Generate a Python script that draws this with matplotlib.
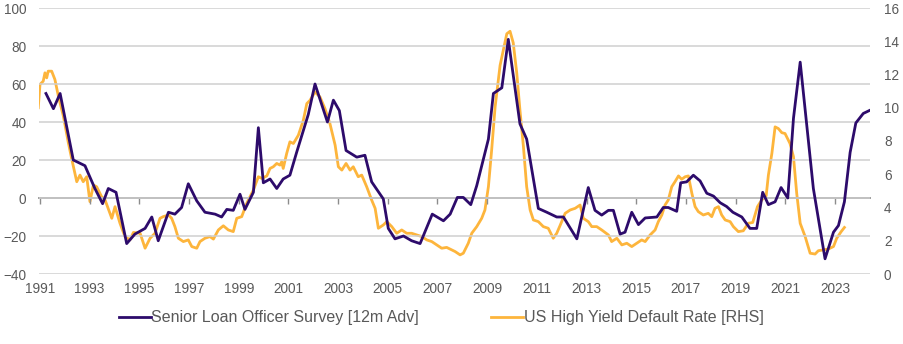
import matplotlib.pyplot as plt

# Senior Loan Officer Survey, shifted 12 months ahead (left axis)
slo_dates = [1991.24, 1991.54, 1991.81, 1992.34, 1992.81, 1993.21, 1993.52, 1993.75,
             1994.06, 1994.49, 1994.82, 1995.23, 1995.50, 1995.76, 1996.17, 1996.43,
             1996.70, 1996.97, 1997.31, 1997.64, 1998.05, 1998.31, 1998.52, 1998.78,
             1999.05, 1999.25, 1999.59, 1999.79, 1999.99, 2000.26, 2000.53, 2000.79,
             2001.06, 2001.33, 2001.80, 2002.07, 2002.57, 2002.81, 2003.05, 2003.32,
             2003.75, 2004.08, 2004.35, 2004.82, 2005.02, 2005.29, 2005.63, 2005.96,
             2006.30, 2006.79, 2007.24, 2007.51, 2007.80, 2008.04, 2008.34, 2008.58,
             2009.05, 2009.25, 2009.59, 2009.85, 2010.32, 2010.59, 2011.06, 2011.40,
             2011.80, 2012.07, 2012.61, 2013.07, 2013.34, 2013.61, 2013.88, 2014.08,
             2014.35, 2014.55, 2014.82, 2015.09, 2015.36, 2015.83, 2016.09, 2016.29,
             2016.63, 2016.79, 2017.03, 2017.30, 2017.57, 2017.84, 2018.11, 2018.38,
             2018.64, 2018.89, 2019.25, 2019.58, 2019.85, 2020.09, 2020.32, 2020.59,
             2020.83, 2021.10, 2021.33, 2021.60, 2022.13, 2022.60, 2022.94, 2023.14,
             2023.38, 2023.61, 2023.84, 2024.14, 2024.38]
slo_values = [55, 47, 55, 20, 17, 5, -3, 5,
              3, -24, -19, -16, -10, -22.5, -7.5, -8.5,
              -5, 7.5, -1.5, -7.5, -8.5, -10, -6, -6.5,
              2, -6, 3, 37, 8, 10, 5, 10,
              12, 24, 44, 60, 40, 51.5, 46, 25,
              21.5, 22.5, 8.5, -0.5, -16, -21.5, -20, -22.5,
              -24, -8.5, -12, -8.5, 0.3, 0.3, -3.5, 6.5,
              31, 55, 58, 83.5, 39, 31, -5.5, -7.5,
              -10, -10, -21.5, 5.5, -6.5, -9, -6.5, -6.5,
              -19, -18, -7.5, -14, -10.5, -10, -5, -5,
              -7, 8, 8.5, 12, 9, 2.5, 1, -2.5,
              -4.5, -7.5, -10, -16, -16, 3, -3.5, -2,
              5.5, 0, 42, 71.5, 5, -32, -18, -14.5,
              -2, 24, 39.5, 44.5, 46]

# US high yield default rate, % (right axis)
hy_dates = [1990.93, 1991.00, 1991.13, 1991.20, 1991.27, 1991.33, 1991.47, 1991.60,
            1991.74, 1991.94, 1992.14, 1992.28, 1992.48, 1992.61, 1992.74, 1992.88,
            1993.01, 1993.15, 1993.28, 1993.48, 1993.62, 1993.89, 1994.02, 1994.22,
            1994.42, 1994.62, 1994.76, 1995.03, 1995.23, 1995.43, 1995.63, 1995.83,
            1995.96, 1996.17, 1996.30, 1996.43, 1996.57, 1996.77, 1996.97, 1997.11,
            1997.31, 1997.44, 1997.64, 1997.84, 1997.98, 1998.18, 1998.38, 1998.58,
            1998.78, 1998.92, 1999.12, 1999.32, 1999.59, 1999.79, 1999.93, 2000.13,
            2000.26, 2000.39, 2000.53, 2000.66, 2000.73, 2000.79, 2000.93, 2001.06,
            2001.20, 2001.40, 2001.60, 2001.74, 2001.87, 2002.07, 2002.27, 2002.47,
            2002.67, 2002.88, 2003.01, 2003.15, 2003.32, 2003.48, 2003.61, 2003.81,
            2003.95, 2004.15, 2004.35, 2004.49, 2004.62, 2004.82, 2004.96, 2005.16,
            2005.36, 2005.56, 2005.76, 2005.96, 2006.17, 2006.37, 2006.57, 2006.77,
            2006.97, 2007.17, 2007.37, 2007.57, 2007.71, 2007.91, 2008.04, 2008.24,
            2008.38, 2008.58, 2008.78, 2008.91, 2009.05, 2009.18, 2009.32, 2009.52,
            2009.65, 2009.79, 2009.92, 2010.05, 2010.19, 2010.32, 2010.46, 2010.59,
            2010.73, 2010.86, 2011.06, 2011.26, 2011.46, 2011.66, 2011.80, 2011.93,
            2012.14, 2012.34, 2012.54, 2012.74, 2012.87, 2013.07, 2013.21, 2013.41,
            2013.61, 2013.88, 2014.01, 2014.22, 2014.42, 2014.62, 2014.82, 2015.02,
            2015.22, 2015.36, 2015.56, 2015.76, 2015.89, 2016.03, 2016.16, 2016.29,
            2016.43, 2016.56, 2016.70, 2016.83, 2016.97, 2017.10, 2017.24, 2017.37,
            2017.50, 2017.70, 2017.90, 2018.04, 2018.17, 2018.31, 2018.44, 2018.58,
            2018.78, 2018.91, 2019.11, 2019.31, 2019.51, 2019.69, 2019.88, 2020.05,
            2020.23, 2020.32, 2020.46, 2020.59, 2020.72, 2020.86, 2020.99, 2021.19,
            2021.33, 2021.46, 2021.60, 2021.80, 2022.00, 2022.20, 2022.33, 2022.53,
            2022.73, 2022.94, 2023.07, 2023.25, 2023.38]
hy_values = [10.0, 11.4, 11.6, 12.1, 11.8, 12.2, 12.2, 11.7,
             10.7, 9.5, 7.9, 6.9, 5.55, 5.95, 5.55, 5.85,
             4.35, 5.35, 5.25, 4.65, 4.45, 3.35, 4.05, 3.05,
             2.25, 2.05, 2.5, 2.45, 1.55, 2.15, 2.45, 3.35,
             3.45, 3.55, 3.35, 2.85, 2.15, 1.95, 2.05, 1.65,
             1.55, 1.95, 2.15, 2.25, 2.1, 2.65, 2.9, 2.65,
             2.55, 3.35, 3.45, 4.25, 5.05, 5.85, 5.75, 5.9,
             6.35, 6.45, 6.65, 6.55, 6.75, 6.35, 7.25, 7.95,
             7.85, 8.35, 9.25, 10.25, 10.45, 10.95, 10.65, 9.95,
             9.05, 7.75, 6.45, 6.25, 6.65, 6.25, 6.45, 5.85,
             5.95, 5.25, 4.45, 3.95, 2.75, 2.95, 3.15, 2.85,
             2.45, 2.65, 2.45, 2.45, 2.35, 2.25, 2.05, 1.95,
             1.75, 1.55, 1.6, 1.45, 1.35, 1.15, 1.25, 1.85,
             2.45, 2.85, 3.35, 3.85, 5.25, 7.45, 10.05, 12.55,
             13.45, 14.45, 14.6, 13.9, 12.1, 9.85, 7.65, 5.25,
             3.85, 3.25, 3.15, 2.85, 2.75, 2.15, 2.45, 2.9,
             3.65, 3.85, 3.95, 4.15, 3.35, 3.15, 2.85, 2.85,
             2.65, 2.35, 1.95, 2.15, 1.75, 1.85, 1.65, 1.85,
             2.05, 1.95, 2.35, 2.65, 3.15, 3.55, 4.15, 4.45,
             5.25, 5.55, 5.9, 5.7, 5.85, 5.9, 4.85, 4.05,
             3.75, 3.55, 3.65, 3.45, 3.95, 4.05, 3.55, 3.25,
             3.15, 2.85, 2.55, 2.6, 3.05, 3.1, 4.05, 4.45,
             4.7, 5.95, 7.25, 8.85, 8.75, 8.5, 8.45, 7.85,
             7.05, 4.85, 3.05, 2.25, 1.25, 1.2, 1.4, 1.45,
             1.5, 1.65, 2.15, 2.55, 2.8]

year_ticks = list(range(1991, 2024, 2))
left_ticks = list(range(-40, 101, 20))
right_ticks = list(range(0, 17, 2))

PURPLE = '#2d0b6b'
ORANGE = '#fdb53c'
GREY = '#595959'

plt.rcParams['font.family'] = ['Liberation Sans', 'DejaVu Sans']

fig = plt.figure(figsize=(9.04, 3.44), dpi=100)
ax = fig.add_axes([39 / 904, 1 - 274 / 344, 831 / 904, 266 / 344])
ax2 = ax.twinx()

ax.set_xlim(1990.96, 2024.41)
ax.set_ylim(-40, 100)
ax2.set_ylim(0, 16)

# horizontal grid from the left scale, zero line drawn separately
ax.set_yticks(left_ticks)
ax.yaxis.grid(True, color='#cfcfcf', linewidth=1.1)
ax.set_axisbelow(True)
for a in (ax, ax2):
    for s in a.spines.values():
        s.set_visible(False)

ax.set_xticks(year_ticks)
ax.tick_params(axis='x', length=0, pad=6, labelsize=9.8, labelcolor=GREY)
ax.tick_params(axis='y', length=0, pad=9, labelsize=9.8, labelcolor=GREY)
ax2.set_yticks(right_ticks)
ax2.tick_params(axis='y', length=0, pad=10, labelsize=9.8, labelcolor=GREY)

# category axis sitting on zero with small tick marks
zero_axis = ax.secondary_xaxis(40 / 140)
zero_axis.set_xticks(year_ticks)
zero_axis.tick_params(axis='x', length=4, width=1, color='#8c8c8c', labelbottom=False, direction='out')
zero_axis.spines['bottom'].set_color('#8c8c8c')
zero_axis.spines['bottom'].set_linewidth(1.3)

l1, = ax.plot(slo_dates, slo_values, color=PURPLE, linewidth=2.0, zorder=4,
              label='Senior Loan Officer Survey [12m Adv]')
l2, = ax2.plot(hy_dates, hy_values, color=ORANGE, linewidth=2.0, zorder=3,
               label='US High Yield Default Rate [RHS]')
ax.set_zorder(ax2.get_zorder() + 1)
ax.patch.set_visible(False)

fig.legend(handles=[l1, l2], loc='center', bbox_to_anchor=(0.488, 0.076), ncol=2,
           frameon=False, fontsize=11.5, labelcolor=GREY, handlelength=2.0,
           handletextpad=0.05, columnspacing=4.5)

fig.savefig('out.png', dpi=100)
